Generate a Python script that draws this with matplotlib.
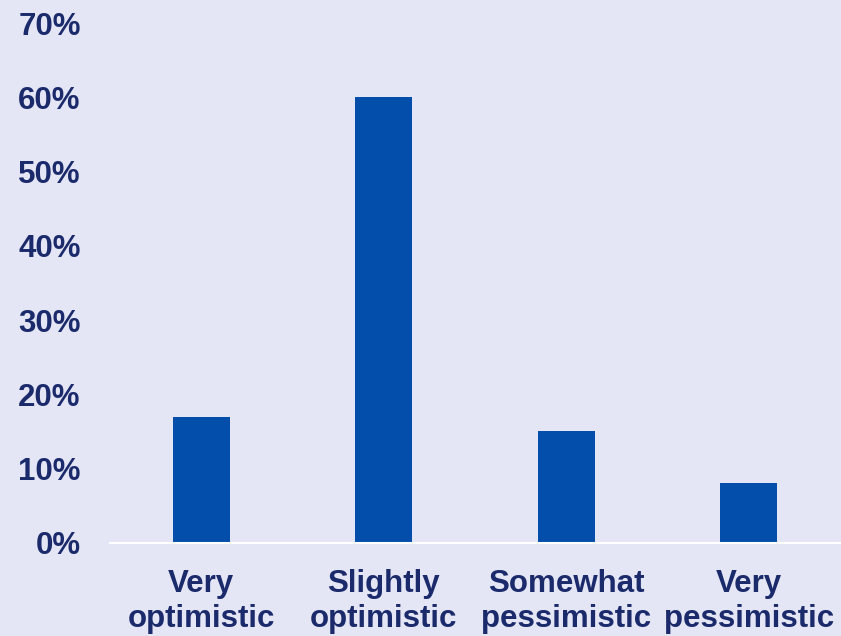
import matplotlib.pyplot as plt
from matplotlib.ticker import FuncFormatter

categories = ["Very\noptimistic", "Slightly\noptimistic", "Somewhat\npessimistic", "Very\npessimistic"]
shares = [17, 60, 15, 8]
y_ticks = [0, 10, 20, 30, 40, 50, 60, 70]

bg = "#E4E6F6"
bar_color = "#034EAB"
text_color = "#1B2A6B"

plt.rcParams["font.family"] = ["Liberation Sans", "DejaVu Sans"]
plt.rcParams["font.weight"] = "bold"

fig = plt.figure(figsize=(8.41, 6.36), dpi=100, facecolor=bg)
ax = fig.add_axes([0.1308, 0.1467, 0.868, 0.817], facecolor=bg)

ax.bar(range(len(shares)), shares, width=0.315, color=bar_color, zorder=2)

ax.set_xlim(-0.5, len(shares) - 0.5)
ax.set_ylim(0, 70)
ax.set_yticks(y_ticks)
ax.yaxis.set_major_formatter(FuncFormatter(lambda v, _: f"{v:.0f}%"))
ax.set_xticks(range(len(categories)))
ax.set_xticklabels(categories, linespacing=1.22)

for side in ["top", "left", "right"]:
    ax.spines[side].set_visible(False)
ax.spines["bottom"].set_color("white")
ax.spines["bottom"].set_linewidth(1.5)
ax.spines["bottom"].set_zorder(3)

ax.tick_params(axis="both", length=0, labelsize=22.5, labelcolor=text_color)
ax.tick_params(axis="y", pad=21)
ax.tick_params(axis="x", pad=19)

fig.savefig("out.png", dpi=100, facecolor=bg)
